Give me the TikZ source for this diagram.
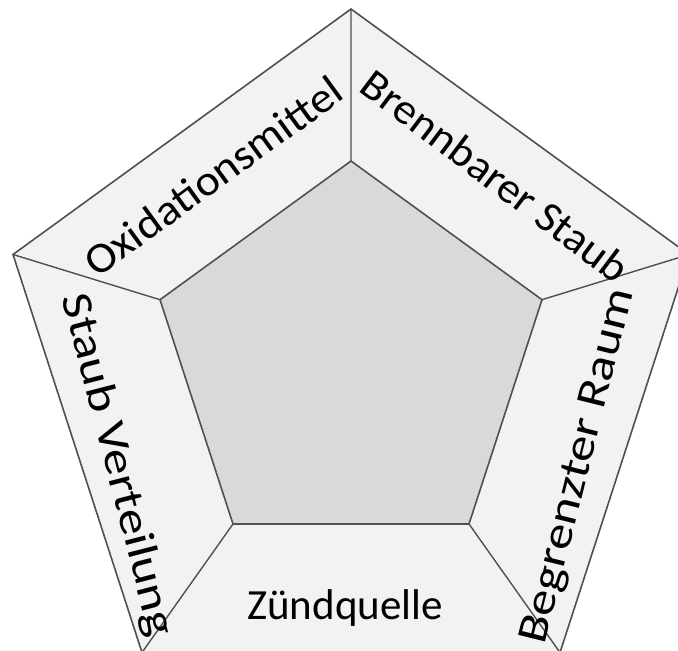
\documentclass[tikz,border=0pt]{standalone}
\usepackage{fontspec}
\usepackage{graphicx}
\setmainfont{Carlito}
\definecolor{outerfill}{HTML}{F2F2F2}
\definecolor{innerfill}{HTML}{D9D9D9}
\definecolor{edgecol}{HTML}{505050}
\begin{document}
\begin{tikzpicture}[x=1pt,y=1pt,
  edge/.style={draw=edgecol,line width=1.6pt,line join=miter},
  spoke/.style={draw=edgecol,line width=1.4pt},
  lbl/.style={inner sep=0pt,anchor=base,font=\fontsize{43}{48}\selectfont,text=black}]
\clip (0,0) rectangle (678,-651);
% outer vertices
\coordinate (T) at (351,-9);
\coordinate (L) at (13,-254.5);
\coordinate (R) at (689,-254.5);
\coordinate (BL) at (142,-652.5);
\coordinate (BR) at (560,-652.5);
% inner vertices
\coordinate (t) at (351,-161);
\coordinate (l) at (160,-299.7);
\coordinate (r) at (542,-299.7);
\coordinate (bl) at (233,-524);
\coordinate (br) at (469,-524);
\fill[outerfill] (T) -- (R) -- (BR) -- (BL) -- (L) -- cycle;
\draw[spoke] (T) -- (t) (L) -- (l) (R) -- (r) (BL) -- (bl) (BR) -- (br);
\path[edge,fill=innerfill] (t) -- (r) -- (br) -- (bl) -- (l) -- cycle;
\path[edge] (T) -- (R) -- (BR) -- (BL) -- (L) -- cycle;
% labels
\node[lbl] (zq) at (345,-619) {Zündquelle};
\node[lbl,rotate=-75.5] (sv) at (106,-468) {\scalebox{1.22}[1]{Staub Verteilung}};
\node[lbl,rotate=76] (bg) at (589,-469) {\scalebox{1.21}[1]{Begrenzter Raum}};
\node[lbl,rotate=36] (ox) at (222,-188) {\scalebox{1.07}[1]{Oxidationsmittel}};
\node[lbl,rotate=-37] (bs) at (486.5,-188) {\scalebox{1.05}[1]{Brennbarer Staub}};
\end{tikzpicture}
\end{document}
